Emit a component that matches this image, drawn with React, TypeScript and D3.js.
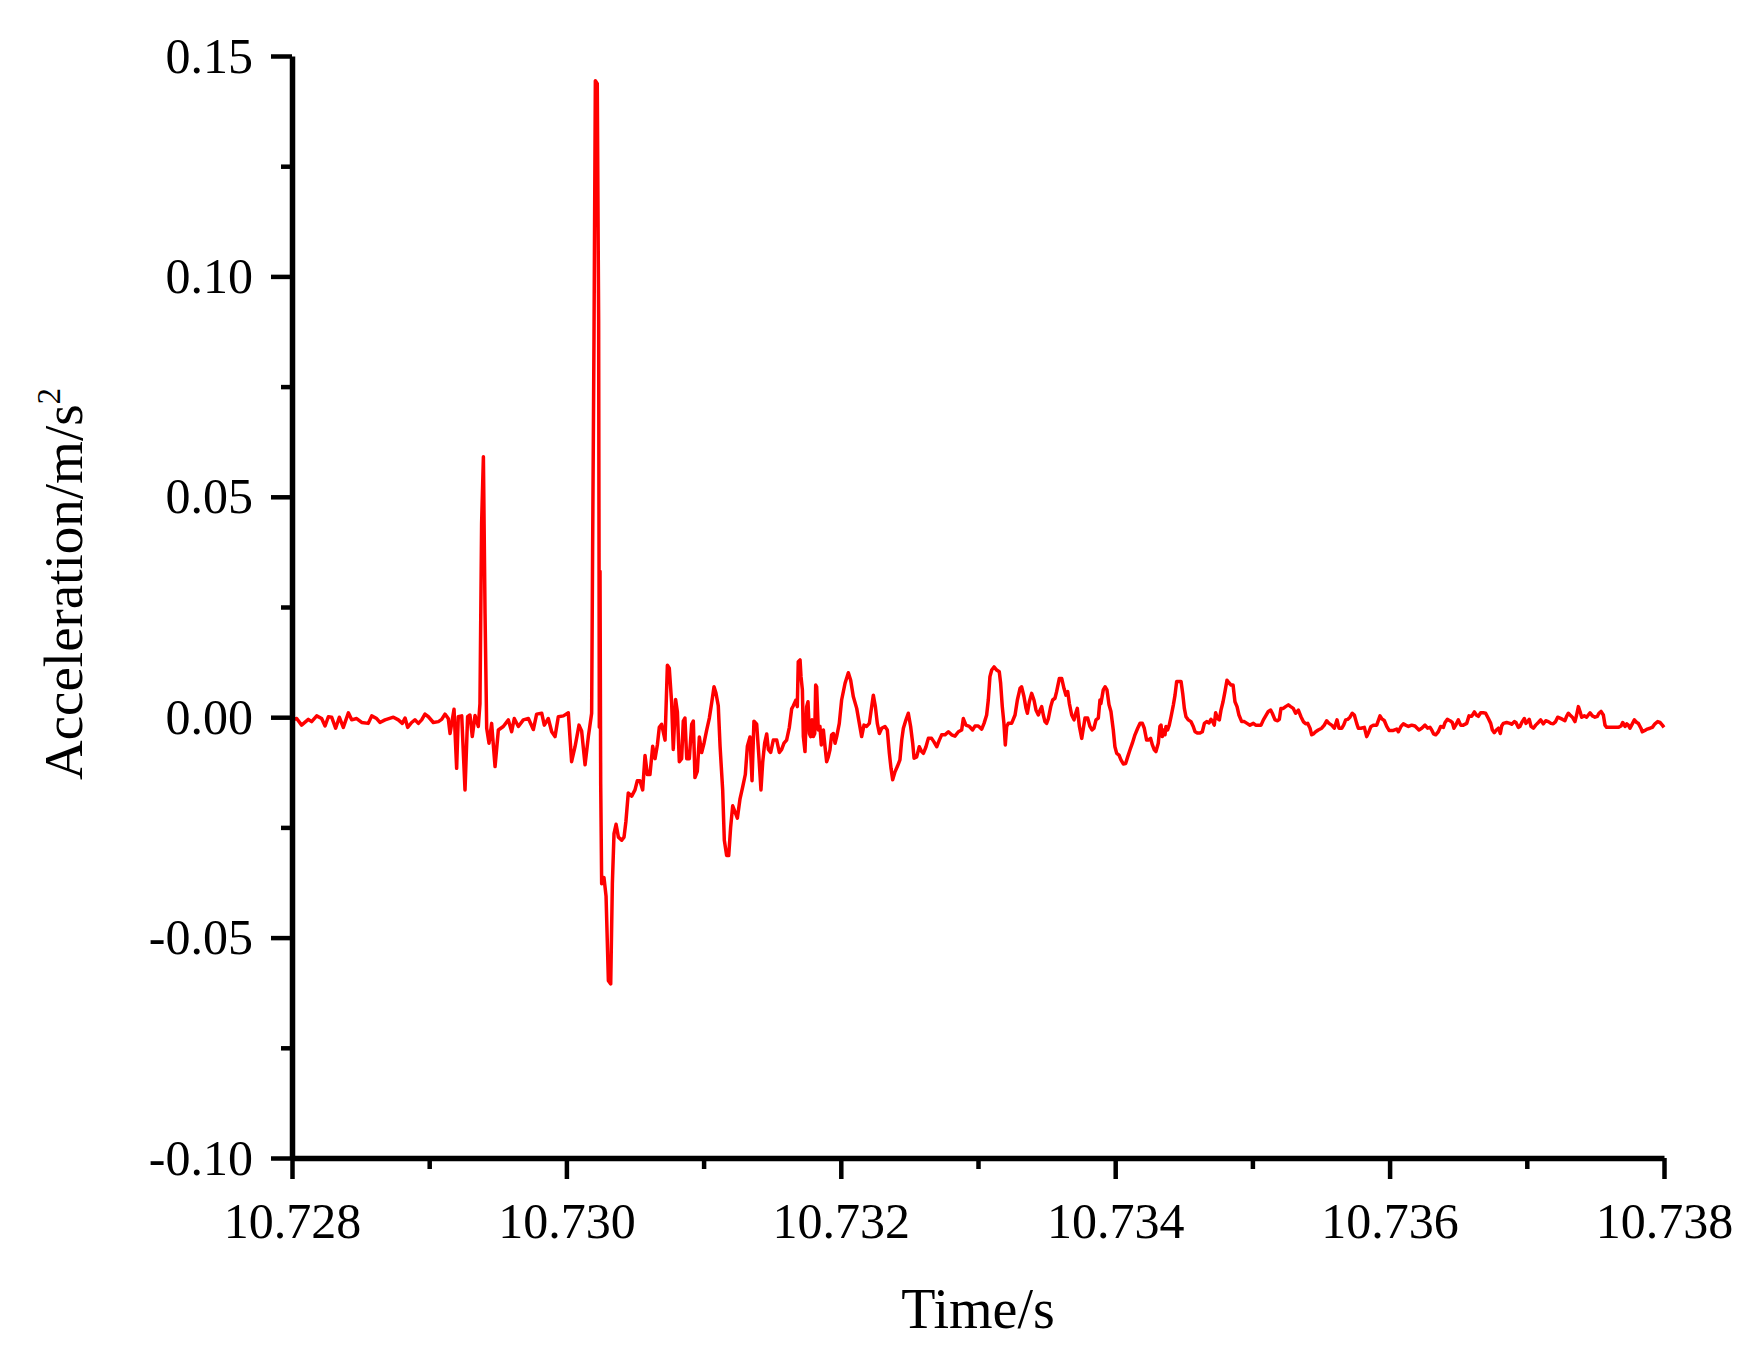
import { useEffect, useRef } from 'react';
import * as d3 from 'd3';

// quiet baseline + first small spike (10.728 - 10.7302 s)
const timeOnset = [
  10.728002, 10.728034, 10.72807, 10.728119, 10.728143, 10.72818, 10.728216, 10.728241, 10.728265, 10.728289,
  10.728318, 10.728345, 10.728374, 10.728411, 10.728435, 10.728471, 10.728508, 10.728556, 10.728581, 10.728617,
  10.728641, 10.728678, 10.728739, 10.728775, 10.728804, 10.728824, 10.728843, 10.728872, 10.728896, 10.728921,
  10.728945, 10.728969, 10.728994, 10.72903, 10.729067, 10.729091, 10.729115, 10.729139, 10.729152, 10.729164,
  10.729181, 10.7292, 10.729212, 10.729237, 10.729261, 10.72928, 10.729297, 10.729314, 10.729334, 10.729358,
  10.72937, 10.729382, 10.729395, 10.729407, 10.729419, 10.729436, 10.729455, 10.72948, 10.729504, 10.72954,
  10.729577, 10.729601, 10.72962, 10.72965, 10.729686, 10.729723, 10.729759, 10.729783, 10.72982, 10.729839,
  10.729868, 10.729893, 10.729917, 10.729941, 10.729978, 10.730014, 10.730038, 10.730063, 10.730092, 10.730111,
  10.730136, 10.73016, 10.730184,
];
const accelOnset = [
  -0.0006, -0.0003, -0.0018, -0.0005, -0.001, 0.0003, -0.0003, -0.002, 0.0001, 0.0,
  -0.0025, 0.0, -0.0023, 0.001, -0.0006, -0.0003, -0.0012, -0.0014, 0.0003, -0.0003,
  -0.0012, -0.0006, 0.0, -0.0006, -0.0014, -0.0002, -0.0023, -0.0012, -0.0006, -0.0014,
  -0.0006, 0.0007, 0.0001, -0.0012, -0.001, -0.0005, 0.0007, -0.0003, -0.0037, -0.0014,
  0.0018, -0.0116, 0.0001, 0.0003, -0.0165, 0.0001, 0.0005, -0.0044, 0.0004, -0.0021,
  0.0031, 0.044, 0.0591, 0.0236, -0.0025, -0.0059, -0.0014, -0.0112, -0.0029, -0.0021,
  -0.0006, -0.0033, -0.0003, -0.0021, -0.0006, -0.0003, -0.0028, 0.0007, 0.0009, -0.0018,
  -0.0003, -0.0033, -0.0044, 0.0001, 0.0003, 0.001, -0.0101, -0.0067, -0.0018, -0.0031,
  -0.0108, -0.0044, 0.0009,
];

// main impact spike and its first rebound (10.7302 - 10.7317 s)
const timeImpact = [
  10.730191, 10.730201, 10.730211, 10.730225, 10.730235, 10.73024, 10.730245, 10.73025, 10.730257, 10.730274,
  10.730289, 10.730306, 10.730323, 10.730335, 10.730347, 10.730362, 10.730379, 10.730403, 10.73042, 10.730434,
  10.730451, 10.730476, 10.7305, 10.730517, 10.730536, 10.730556, 10.730573, 10.73059, 10.730609, 10.730629,
  10.730646, 10.730663, 10.730677, 10.730694, 10.730719, 10.730736, 10.73075, 10.730767, 10.730779, 10.730796,
  10.730809, 10.730823, 10.73084, 10.730852, 10.730864, 10.730877, 10.730896, 10.730913, 10.730925, 10.730937,
  10.730954, 10.730969, 10.730986, 10.731003, 10.731022, 10.731042, 10.731059, 10.731076, 10.73109, 10.731107,
  10.73112, 10.731139, 10.731151, 10.731168, 10.731183, 10.731197, 10.731212, 10.731229, 10.731246, 10.731265,
  10.731285, 10.731304, 10.731319, 10.731338, 10.731353, 10.731367, 10.731387, 10.731404, 10.731418, 10.731431,
  10.731445, 10.73146, 10.731472, 10.731489, 10.731508, 10.731533, 10.731552, 10.731569, 10.731586, 10.731605,
  10.731625, 10.731642, 10.731654,
];
const accelImpact = [
  0.0374, 0.0856, 0.1444, 0.1437, 0.0898, -0.0023, 0.0331, -0.0151, -0.0378, -0.0364,
  -0.0406, -0.0598, -0.0605, -0.0378, -0.0264, -0.0243, -0.0272, -0.0279, -0.0272, -0.0236,
  -0.0172, -0.0179, -0.0165, -0.0144, -0.0144, -0.0165, -0.0087, -0.013, -0.013, -0.0066,
  -0.0094, -0.0063, -0.0023, -0.0016, -0.0052, 0.0118, 0.0111, 0.0033, -0.0073, 0.004,
  0.0012, -0.0101, -0.0094, -0.0009, -0.0002, -0.0094, -0.0094, -0.0016, -0.0009, -0.0137,
  -0.0123, -0.0045, -0.008, -0.0059, -0.003, -0.0002, 0.0033, 0.0069, 0.0055, 0.0026,
  -0.0066, -0.0165, -0.0279, -0.0314, -0.0314, -0.025, -0.0201, -0.0215, -0.0229, -0.0186,
  -0.0158, -0.013, -0.0066, -0.0045, -0.0144, -0.0009, -0.0016, -0.0094, -0.0165, -0.0101,
  -0.0059, -0.0038, -0.0073, -0.008, -0.0052, -0.0052, -0.008, -0.0073, -0.0059, -0.0052,
  -0.0023, 0.0019, 0.0026,
];

// ringing after the impact (10.7317 - 10.7339 s)
const timeRing = [
  10.731673, 10.731683, 10.73169, 10.731703, 10.73171, 10.73172, 10.731727, 10.731739, 10.731751, 10.731761,
  10.731771, 10.73178, 10.73179, 10.7318, 10.73181, 10.731817, 10.731824, 10.731836, 10.731848, 10.731858,
  10.731873, 10.731885, 10.731897, 10.731909, 10.731921, 10.731933, 10.731946, 10.731958, 10.73197, 10.731989,
  10.732006, 10.732031, 10.732055, 10.732072, 10.732091, 10.732116, 10.732135, 10.732152, 10.732169, 10.732188,
  10.732208, 10.732225, 10.732237, 10.732252, 10.732266, 10.732281, 10.732298, 10.732322, 10.732339, 10.732354,
  10.732366, 10.732378, 10.732395, 10.732412, 10.732431, 10.732444, 10.732456, 10.732475, 10.732492, 10.732509,
  10.732524, 10.732534, 10.732553, 10.732572, 10.732589, 10.732602, 10.732621, 10.732638, 10.732662, 10.732679,
  10.732699, 10.732718, 10.732735, 10.732759, 10.732784, 10.732808, 10.732832, 10.732857, 10.732881, 10.732893,
  10.732912, 10.732937, 10.732961, 10.732978, 10.733002, 10.733027, 10.733044, 10.733063, 10.733075, 10.733087,
  10.7331, 10.733117, 10.733136, 10.733155, 10.733165, 10.733177, 10.733189, 10.733199, 10.733209, 10.733221,
  10.733245, 10.73327, 10.733287, 10.733306, 10.733318, 10.733335, 10.73335, 10.73336, 10.733374, 10.733391,
  10.733408, 10.733423, 10.73344, 10.733452, 10.733464, 10.733476, 10.733488, 10.7335, 10.733513, 10.73353,
  10.733544, 10.733561, 10.733573, 10.733593, 10.73361, 10.733627, 10.733641, 10.733654, 10.733666, 10.733683,
  10.7337, 10.733712, 10.733724, 10.733739, 10.733756, 10.733768, 10.73378, 10.733799, 10.733816, 10.733831,
  10.733845, 10.73386, 10.733877, 10.733889,
];
const accelRing = [
  0.0039, 0.0024, 0.0126, 0.013, 0.0092, 0.0062, -0.0044, -0.0078, 0.0024, 0.0035,
  -0.0037, -0.0044, -0.0006, -0.0044, -0.0037, 0.0073, 0.0069, -0.0029, -0.0021, -0.0063,
  -0.0029, -0.0067, -0.0101, -0.009, -0.0074, -0.004, -0.0037, -0.0059, -0.0044, -0.0014,
  0.0039, 0.0077, 0.0101, 0.0084, 0.0047, 0.002, -0.0014, -0.0044, -0.0018, -0.0021,
  -0.0014, 0.0024, 0.005, 0.0024, -0.0014, -0.0037, -0.0025, -0.0021, -0.0029, -0.0082,
  -0.0116, -0.0142, -0.0124, -0.0112, -0.0097, -0.0052, -0.0025, -0.0006, 0.0009, -0.0021,
  -0.0059, -0.0093, -0.009, -0.0067, -0.0078, -0.0082, -0.0067, -0.0048, -0.0048, -0.0056,
  -0.0067, -0.0052, -0.004, -0.004, -0.0033, -0.004, -0.0043, -0.0033, -0.0029, -0.0003,
  -0.0018, -0.0021, -0.0029, -0.002, -0.002, -0.0027, -0.0014, 0.0005, 0.0039, 0.0092,
  0.0107, 0.0114, 0.0107, 0.0103, 0.0077, 0.0024, -0.0014, -0.0063, -0.0021, -0.0014,
  -0.0014, 0.0005, 0.0039, 0.0065, 0.0069, 0.0047, 0.002, 0.0009, 0.0035, 0.0054,
  0.0039, 0.0016, 0.0005, 0.0016, 0.0024, 0.0005, -0.001, -0.0014, -0.0003, 0.0024,
  0.0039, 0.0043, 0.0058, 0.0088, 0.0088, 0.0065, 0.005, 0.0058, 0.0031, 0.0005,
  -0.0006, 0.0009, 0.002, -0.0021, -0.0048, -0.0025, -0.0002, -0.0002, -0.0021, -0.0029,
  -0.0025, -0.0006, -0.0002, 0.0039,
];

// slower decay (10.7339 - 10.7361 s)
const timeDecay = [
  10.733896, 10.733913, 10.733926, 10.73394, 10.733955, 10.733969, 10.733986, 10.733998, 10.734011, 10.734028,
  10.734042, 10.734059, 10.734076, 10.734091, 10.734108, 10.734125, 10.734144, 10.734164, 10.734181, 10.734198,
  10.734212, 10.734229, 10.734241, 10.734258, 10.734271, 10.734285, 10.734297, 10.734314, 10.734326, 10.734334,
  10.734343, 10.734353, 10.734363, 10.73437, 10.734382, 10.734394, 10.734407, 10.734424, 10.734436, 10.734448,
  10.734465, 10.73448, 10.734492, 10.734504, 10.734516, 10.734533, 10.734552, 10.734569, 10.734582, 10.734601,
  10.734618, 10.734635, 10.73465, 10.734667, 10.734684, 10.734698, 10.73471, 10.734722, 10.734732, 10.734747,
  10.734759, 10.734771, 10.734786, 10.7348, 10.734815, 10.734829, 10.734844, 10.734859, 10.734873, 10.734888,
  10.734902, 10.734922, 10.734941, 10.734961, 10.734982, 10.735007, 10.735024, 10.735043, 10.735063, 10.73508,
  10.735097, 10.735116, 10.735133, 10.735145, 10.735165, 10.735184, 10.735196, 10.735208, 10.735225, 10.735242,
  10.735262, 10.735279, 10.735298, 10.735315, 10.735335, 10.735354, 10.735371, 10.735388, 10.735403, 10.73542,
  10.735432, 10.735444, 10.735461, 10.73548, 10.735505, 10.735524, 10.735541, 10.735558, 10.735578, 10.735597,
  10.735617, 10.735631, 10.735651, 10.735665, 10.73568, 10.735694, 10.735711, 10.735728, 10.735743, 10.73576,
  10.735772, 10.735791, 10.735816, 10.735833, 10.735845, 10.735864, 10.735884, 10.735906, 10.73593, 10.735942,
  10.735962, 10.735979, 10.735996, 10.736027, 10.736052, 10.736064,
];
const accelDecay = [
  0.0031, 0.0062, 0.0069, 0.0062, 0.0028, 0.0013, -0.0029, -0.0067, -0.0082, -0.0086,
  -0.0097, -0.0106, -0.0105, -0.009, -0.0074, -0.0059, -0.004, -0.0025, -0.0014, -0.0014,
  -0.0025, -0.0052, -0.0052, -0.0048, -0.0063, -0.0074, -0.0078, -0.0059, -0.0021, -0.0018,
  -0.0044, -0.0029, -0.004, -0.0021, -0.0029, -0.0018, 0.0001, 0.0028, 0.005, 0.0081,
  0.0081, 0.0081, 0.0054, 0.002, 0.0001, -0.0006, -0.001, -0.0021, -0.0033, -0.0036,
  -0.0036, -0.0033, -0.0014, -0.001, -0.0013, -0.0005, -0.001, -0.0018, 0.001, -0.0003,
  -0.0006, 0.0016, 0.0035, 0.0058, 0.0084, 0.0078, 0.0073, 0.0073, 0.0035, 0.0024,
  0.0005, -0.001, -0.001, -0.0014, -0.0018, -0.0014, -0.0018, -0.0018, -0.0018, -0.0006,
  0.0003, 0.0013, 0.0016, 0.0009, -0.0006, -0.0008, -0.0005, 0.002, 0.002, 0.0024,
  0.0028, 0.0024, 0.002, 0.0009, 0.0016, 0.0001, -0.001, -0.0015, -0.0014, -0.0025,
  -0.004, -0.0038, -0.0033, -0.0029, -0.0025, -0.0018, -0.0008, -0.0014, -0.0018, -0.0025,
  -0.0006, -0.0025, -0.0025, -0.0018, -0.0006, -0.0005, 0.0, 0.0009, 0.0005, -0.0014,
  -0.0025, -0.0025, -0.0023, -0.0044, -0.0036, -0.0021, -0.0018, -0.0018, 0.0003, -0.0003,
  -0.0008, -0.0021, -0.003, -0.003, -0.0027, -0.0033,
];

// residual noise (10.7361 - 10.738 s)
const timeTail = [
  10.736083, 10.7361, 10.736117, 10.736137, 10.736161, 10.736185, 10.736214, 10.736234, 10.736258, 10.736277,
  10.736294, 10.736307, 10.736321, 10.736336, 10.736355, 10.736372, 10.736392, 10.736404, 10.736421, 10.73644,
  10.736457, 10.736469, 10.736482, 10.736501, 10.736518, 10.736537, 10.736562, 10.736579, 10.736598, 10.736618,
  10.736632, 10.736647, 10.736664, 10.736683, 10.7367, 10.73672, 10.736737, 10.736749, 10.736763, 10.736778,
  10.736793, 10.736807, 10.736817, 10.736829, 10.736853, 10.736877, 10.73689, 10.736909, 10.736921, 10.736938,
  10.73695, 10.736967, 10.736982, 10.736994, 10.737006, 10.737018, 10.737031, 10.737048, 10.737065, 10.737084,
  10.737101, 10.73712, 10.737138, 10.737157, 10.737176, 10.737193, 10.73721, 10.737225, 10.737242, 10.737261,
  10.737278, 10.73729, 10.737303, 10.737315, 10.737332, 10.737351, 10.737363, 10.737376, 10.737388, 10.7374,
  10.737419, 10.737436, 10.737448, 10.737461, 10.737478, 10.737497, 10.737514, 10.737526, 10.737541, 10.737558,
  10.73757, 10.737582, 10.737606, 10.737631, 10.737655, 10.737667, 10.737687, 10.737699, 10.737716, 10.737728,
  10.73774, 10.737752, 10.737764, 10.737784, 10.737801, 10.737813, 10.737832, 10.737842, 10.737861, 10.737878,
  10.737898, 10.737915, 10.737934, 10.737954, 10.737971, 10.737988, 10.738,
];
const accelTail = [
  -0.0021, -0.0015, -0.0018, -0.0021, -0.0018, -0.002, -0.0029, -0.0025, -0.0018, -0.0025,
  -0.0023, -0.0029, -0.0038, -0.004, -0.0033, -0.0021, -0.0023, -0.0012, -0.0005, -0.0008,
  -0.0012, -0.0025, -0.0018, -0.0006, -0.0018, -0.0018, -0.0014, 0.0003, 0.0002, 0.0012,
  0.0005, 0.0002, 0.001, 0.001, 0.0009, -0.0003, -0.0014, -0.0029, -0.0035, -0.0029,
  -0.0025, -0.0037, -0.002, -0.0014, -0.0012, -0.0014, -0.0016, -0.001, -0.0012, -0.0023,
  -0.0021, -0.001, -0.0003, -0.0014, -0.001, -0.0005, -0.0021, -0.0025, -0.0018, -0.0012,
  -0.0006, -0.0015, -0.0008, -0.001, -0.0014, -0.0015, -0.001, 0.0, -0.0002, -0.0005,
  -0.0008, 0.0002, 0.0009, 0.0005, 0.0, -0.001, 0.0005, 0.0024, 0.0013, 0.0,
  0.0003, 0.0, 0.0005, 0.001, 0.0003, 0.0, 0.0002, 0.0009, 0.0013, 0.0005,
  -0.0018, -0.0023, -0.0023, -0.0023, -0.0023, -0.0023, -0.002, -0.0012, -0.0021, -0.0015,
  -0.0018, -0.0025, -0.0018, -0.0006, -0.0012, -0.0014, -0.0025, -0.0033, -0.003, -0.0027,
  -0.0025, -0.0023, -0.0015, -0.001, -0.0012, -0.0018, -0.0023,
];

const xMajorTicks = [10.728, 10.73, 10.732, 10.734, 10.736, 10.738];
const xMinorTicks = [10.729, 10.731, 10.733, 10.735, 10.737];
const yMajorTicks = [-0.1, -0.05, 0, 0.05, 0.1, 0.15];
const yMinorTicks = [-0.075, -0.025, 0.025, 0.075, 0.125];
const xTitle = 'Time/s';
const yTitle = 'Acceleration/m/s';
const yTitleSup = '2';

const FONT = '"Liberation Serif", "Times New Roman", serif';

export default function App() {
  const svgRef = useRef<SVGSVGElement>(null);

  useEffect(() => {
    if (!svgRef.current) return;
    const svg = d3.select(svgRef.current);
    svg.selectAll('*').remove();

    const width = 1762;
    const height = 1353;
    const margin = { top: 56, right: 98, bottom: 195, left: 292 };

    const times = [...timeOnset, ...timeImpact, ...timeRing, ...timeDecay, ...timeTail];
    const accel = [...accelOnset, ...accelImpact, ...accelRing, ...accelDecay, ...accelTail];
    const points: [number, number][] = times.map((t, i) => [t, accel[i]]);

    const x = d3.scaleLinear().domain([10.728, 10.738]).range([margin.left, width - margin.right]);
    const y = d3.scaleLinear().domain([-0.1, 0.15]).range([height - margin.bottom, margin.top]);

    // signal
    const line = d3.line<[number, number]>()
      .x(d => x(d[0]))
      .y(d => y(d[1]));

    svg.append('path')
      .datum(points)
      .attr('fill', 'none')
      .attr('stroke', '#ff0000')
      .attr('stroke-width', 3.5)
      .attr('stroke-linejoin', 'round')
      .attr('d', line);

    const styleAxis = (g: d3.Selection<SVGGElement, unknown, null, undefined>) => {
      g.select('.domain').attr('stroke', '#000').attr('stroke-width', 5.5);
      g.selectAll('.tick line').attr('stroke', '#000').attr('stroke-width', 4.5);
      g.selectAll('.tick text')
        .attr('fill', '#000')
        .style('font-family', FONT)
        .style('font-size', '50px');
    };

    // x axis
    const xAxisG = svg.append('g')
      .attr('transform', `translate(0,${height - margin.bottom})`)
      .call(d3.axisBottom(x)
        .tickValues(xMajorTicks)
        .tickSize(21)
        .tickSizeOuter(0)
        .tickPadding(23)
        .tickFormat(d => (+d).toFixed(3)));
    styleAxis(xAxisG);

    const xMinorG = svg.append('g')
      .attr('transform', `translate(0,${height - margin.bottom})`)
      .call(d3.axisBottom(x).tickValues(xMinorTicks).tickSize(11).tickSizeOuter(0).tickFormat(() => ''));
    xMinorG.select('.domain').remove();
    styleAxis(xMinorG);

    // y axis
    const yAxisG = svg.append('g')
      .attr('transform', `translate(${margin.left},0)`)
      .call(d3.axisLeft(y)
        .tickValues(yMajorTicks)
        .tickSize(21)
        .tickSizeOuter(0)
        .tickPadding(18)
        .tickFormat(d => (+d).toFixed(2)));
    styleAxis(yAxisG);

    const yMinorG = svg.append('g')
      .attr('transform', `translate(${margin.left},0)`)
      .call(d3.axisLeft(y).tickValues(yMinorTicks).tickSize(11).tickSizeOuter(0).tickFormat(() => ''));
    yMinorG.select('.domain').remove();
    styleAxis(yMinorG);

    // axis titles
    svg.append('text')
      .attr('x', (margin.left + width - margin.right) / 2)
      .attr('y', 1328)
      .attr('text-anchor', 'middle')
      .style('font-family', FONT)
      .style('font-size', '56px')
      .text(xTitle);

    const yTitleText = svg.append('text')
      .attr('transform', 'translate(82,584) rotate(-90)')
      .attr('text-anchor', 'middle')
      .style('font-family', FONT)
      .style('font-size', '55px');
    yTitleText.append('tspan').text(yTitle);
    yTitleText.append('tspan')
      .attr('dy', -22)
      .style('font-size', '33px')
      .text(yTitleSup);
  }, []);

  return (
    <div style={{ position: 'absolute', left: 0, top: 0, background: '#fff' }}>
      <svg ref={svgRef} width={1762} height={1353} style={{ display: 'block' }} />
    </div>
  );
}
